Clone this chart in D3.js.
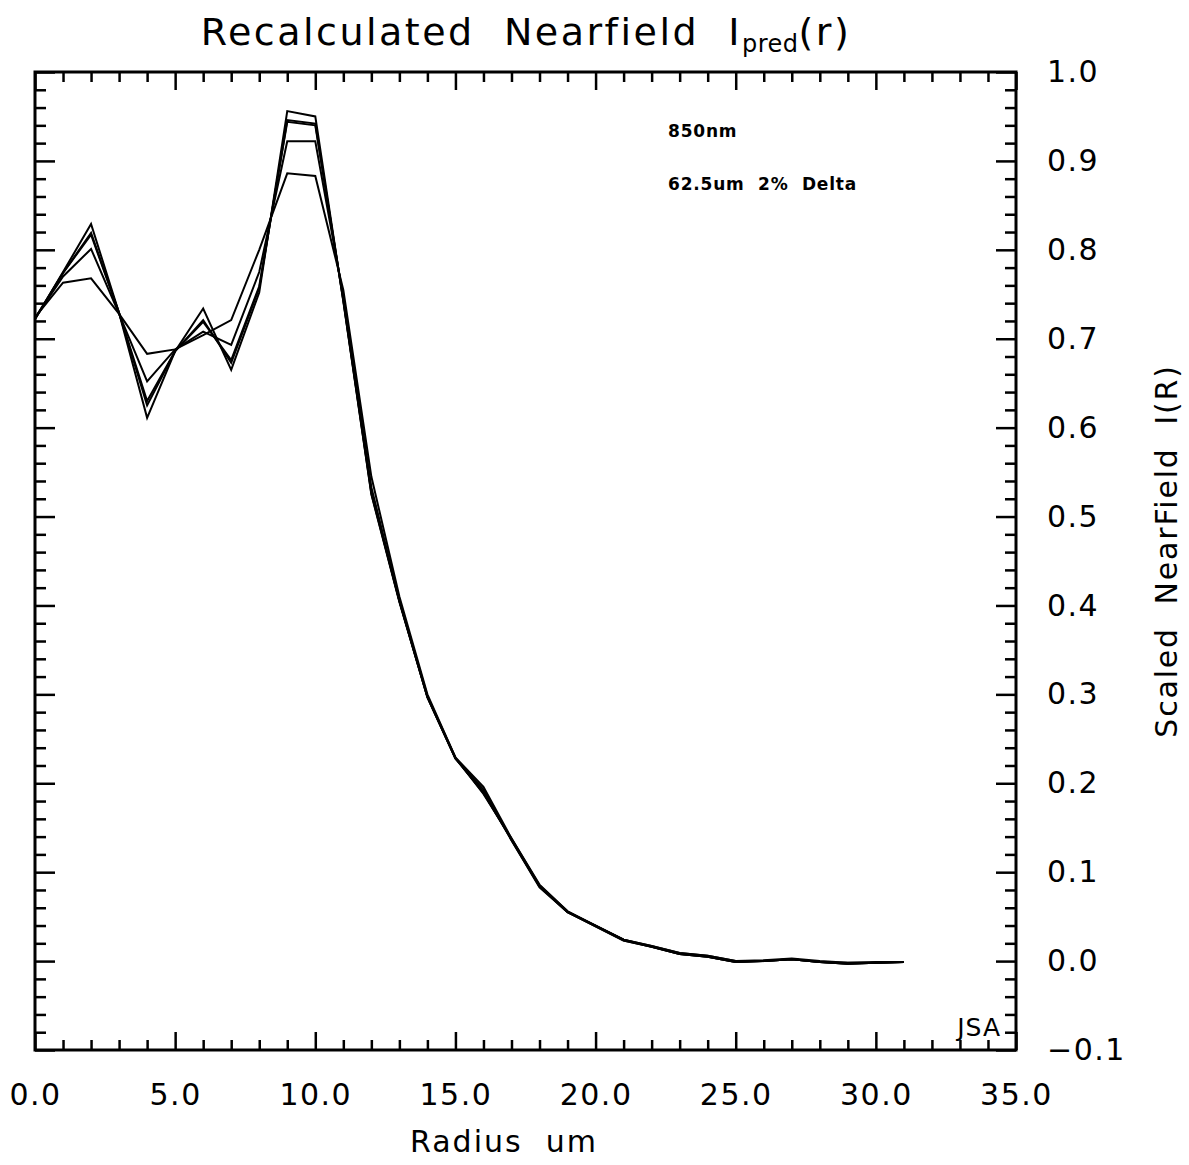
<!DOCTYPE html>
<html>
<head>
<meta charset="utf-8">
<script src="https://cdn.jsdelivr.net/npm/d3@7"></script>
<style>
  html, body { margin: 0; padding: 0; background: #fff; }
  svg { display: block; }
  text { font-family: "DejaVu Sans", "Liberation Sans", sans-serif; fill: #000; white-space: pre; }
</style>
</head>
<body>
<svg id="chart" width="1189" height="1165"></svg>
<script>
// ---------- data ----------
const radius = [0,1,2,3,4,5,6,7,8,9,10,11,12,13,14,15,16,17,18,19,20,21,22,23,24,25,26,27,28,29,30,31];

const seriesA = [0.722,0.775,0.829,0.729,0.611,0.686,0.734,0.665,0.752,0.956,0.950,0.742,0.525,0.404,0.297,0.228,0.193,0.136,0.083,
                 0.055,0.039,0.023,0.016,0.008,0.005,-0.001,0.000,0.002,-0.001,-0.003,-0.002,-0.001];
const seriesB = [0.722,0.774,0.819,0.729,0.625,0.686,0.721,0.673,0.757,0.946,0.942,0.743,0.526,0.405,0.297,0.228,0.190,0.136,0.084,
                 0.055,0.039,0.023,0.016,0.008,0.005,-0.001,0.000,0.002,-0.001,-0.003,-0.002,-0.001];
const seriesC = [0.723,0.774,0.817,0.729,0.630,0.686,0.719,0.676,0.759,0.944,0.940,0.744,0.528,0.405,0.297,0.228,0.189,0.137,0.084,
                 0.055,0.040,0.024,0.016,0.008,0.005,-0.001,0.000,0.002,-0.001,-0.003,-0.002,-0.001];
const seriesD = [0.723,0.770,0.801,0.728,0.652,0.688,0.708,0.693,0.775,0.922,0.922,0.748,0.533,0.406,0.298,0.229,0.188,0.138,0.085,
                 0.056,0.040,0.024,0.017,0.009,0.006,0.000,0.000,0.002,-0.001,-0.002,-0.002,-0.001];
const seriesE = [0.724,0.763,0.768,0.728,0.683,0.688,0.704,0.721,0.800,0.886,0.883,0.755,0.545,0.410,0.300,0.229,0.196,0.138,0.086,
                 0.056,0.040,0.024,0.017,0.009,0.006,0.000,0.001,0.003,0.000,-0.002,-0.001,-0.001];

const allSeries = [seriesA, seriesB, seriesC, seriesD, seriesE];

const xMajorTicks = [0, 5, 10, 15, 20, 25, 30, 35];
const yMajorTicks = [-0.1, 0.0, 0.1, 0.2, 0.3, 0.4, 0.5, 0.6, 0.7, 0.8, 0.9, 1.0];

const titleMain = "Recalculated  Nearfield  I";
const titleSub = "pred";
const titleEnd = "(r)";
const xLabel = "Radius  um";
const yLabel = "Scaled  NearField  I(R)";
const notes = ["850nm", "62.5um  2%  Delta"];
const signature = "JSA";

// ---------- layout ----------
const L = 35, R = 1016, T = 72, B = 1050;
const svg = d3.select("#chart");

const x = d3.scaleLinear().domain([0, 35]).range([L, R]);
const y = d3.scaleLinear().domain([-0.1, 1.0]).range([B, T]);

const xMinor = d3.range(0, 35.001, 1).filter(v => v % 5 !== 0);
const yMinor = d3.range(-0.1, 1.0001, 0.02).map(v => +v.toFixed(2)).filter(v => Math.abs(Math.round(v*10) - v*10) > 1e-6);

const fmt = d3.format(".1f");
const fmtY = v => (v < 0 ? "\u2212" : "") + fmt(Math.abs(v));

function styleAxis(g) {
  g.select(".domain").remove();
  g.selectAll("line").attr("stroke", "#000").attr("stroke-width", 2.5);
  g.selectAll("text").style("font-size", "30px").style("letter-spacing", "1.5px").attr("fill", "#000");
}

// bottom
svg.append("g").attr("transform", `translate(0,${B})`)
  .call(d3.axisBottom(x).tickValues(xMajorTicks).tickSize(-18).tickPadding(34).tickFormat(fmt))
  .call(styleAxis);
svg.append("g").attr("transform", `translate(0,${B})`)
  .call(d3.axisBottom(x).tickValues(xMinor).tickSize(-10).tickFormat(""))
  .call(styleAxis);
// top
svg.append("g").attr("transform", `translate(0,${T})`)
  .call(d3.axisTop(x).tickValues(xMajorTicks).tickSize(-18).tickFormat(""))
  .call(styleAxis);
svg.append("g").attr("transform", `translate(0,${T})`)
  .call(d3.axisTop(x).tickValues(xMinor).tickSize(-10).tickFormat(""))
  .call(styleAxis);
// left
svg.append("g").attr("transform", `translate(${L},0)`)
  .call(d3.axisLeft(y).tickValues(yMajorTicks).tickSize(-20).tickFormat(""))
  .call(styleAxis);
svg.append("g").attr("transform", `translate(${L},0)`)
  .call(d3.axisLeft(y).tickValues(yMinor).tickSize(-11).tickFormat(""))
  .call(styleAxis);
// right
svg.append("g").attr("transform", `translate(${R},0)`)
  .call(d3.axisRight(y).tickValues(yMajorTicks).tickSize(-20).tickPadding(31).tickFormat(fmtY))
  .call(styleAxis);
svg.append("g").attr("transform", `translate(${R},0)`)
  .call(d3.axisRight(y).tickValues(yMinor).tickSize(-11).tickFormat(""))
  .call(styleAxis);

// frame
svg.append("rect").attr("x", L).attr("y", T).attr("width", R - L).attr("height", B - T)
  .attr("fill", "none").attr("stroke", "#000").attr("stroke-width", 3);

// lines
const line = d3.line().x((d, i) => x(radius[i])).y(d => y(d));
svg.append("g").selectAll("path").data(allSeries).join("path")
  .attr("d", line)
  .attr("fill", "none")
  .attr("stroke", "#000")
  .attr("stroke-width", 2)
  .attr("stroke-linejoin", "miter");

// title
const t = svg.append("text").attr("x", 526).attr("y", 45).attr("text-anchor", "middle")
  .style("font-size", "38px").style("letter-spacing", "2.5px");
t.append("tspan").text(titleMain);
t.append("tspan").attr("dy", 7).style("font-size", "24px").style("letter-spacing", "0.5px").text(titleSub);
t.append("tspan").attr("dy", -7).text(titleEnd);

// axis titles
svg.append("text").attr("x", 504).attr("y", 1152).attr("text-anchor", "middle")
  .style("font-size", "30px").style("letter-spacing", "2px").text(xLabel);
svg.append("text").attr("transform", "translate(1177,551) rotate(-90)").attr("text-anchor", "middle")
  .style("font-size", "30px").style("letter-spacing", "1.8px").text(yLabel);

// notes
svg.append("g").selectAll("text").data(notes).join("text")
  .attr("x", 668).attr("y", (d, i) => 137 + i * 53)
  .style("font-size", "17px").style("font-weight", "bold").style("letter-spacing", "0.8px").text(d => d);

svg.append("text").attr("x", 1001).attr("y", 1036).attr("text-anchor", "end")
  .style("font-size", "25px").style("letter-spacing", "1px").text(signature);
</script>
</body>
</html>
